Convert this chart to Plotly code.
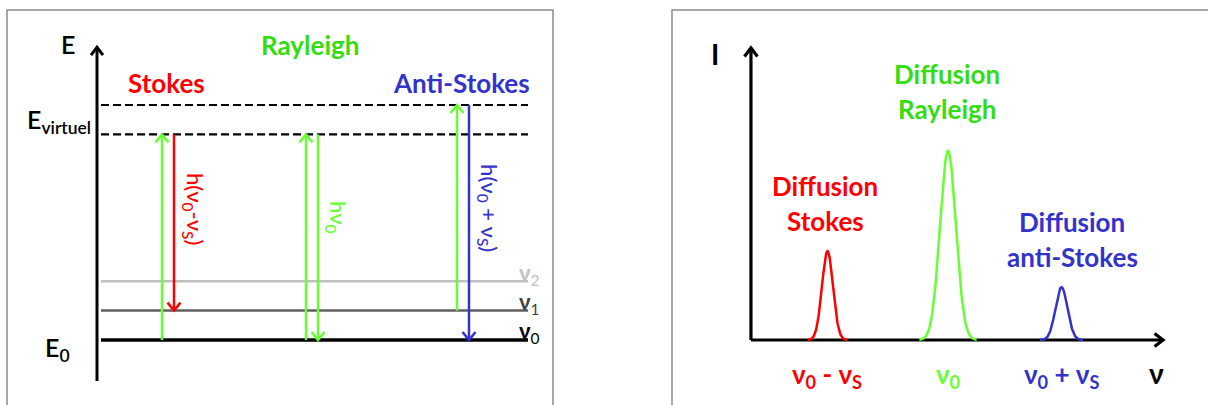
import numpy as np
import plotly.graph_objects as go

FONT = "Lato, 'Open Sans', 'DejaVu Sans', sans-serif"
RED = "#ff0000"
GREEN_TXT = "#33dd11"
GREEN = "#66ff33"
BLUE = "#3333cc"
BLACK = "#000000"

# ---------------- Left panel : energy-level diagram ----------------
level_names = ["ν<sub>0</sub>", "ν<sub>1</sub>", "ν<sub>2</sub>"]
level_energy = [0.0, 1.0, 2.0]
level_colors = ["#000000", "#606060", "#c0c0c0"]
level_label_colors = ["#000000", "#404040", "#c0c0c0"]
level_widths = [3.5, 2.5, 2.5]
virtual_energy = [7.0, 8.0]

process_names = ["Stokes", "Rayleigh", "Anti-Stokes"]
process_colors = [RED, GREEN_TXT, BLUE]
process_x = [0.71, 2.15, 3.66]
start_energy = [0.0, 0.0, 1.0]
virtual_reached = [7.0, 7.0, 8.0]
end_energy = [1.0, 0.0, 0.0]
emission_colors = [RED, GREEN, BLUE]
emission_labels = ["h(ν<sub>0</sub>-ν<sub>S</sub>)", "hν<sub>0</sub>", "h(ν<sub>0</sub> + ν<sub>S</sub>)"]

# ---------------- Right panel : spectrum ----------------
peak_names = ["Diffusion<br>Stokes", "Diffusion<br>Rayleigh", "Diffusion<br>anti-Stokes"]
peak_ticks = ["ν<sub>0</sub> - ν<sub>S</sub>", "ν<sub>0</sub>", "ν<sub>0</sub> + ν<sub>S</sub>"]
peak_colors = [RED, GREEN, BLUE]
peak_text_colors = [RED, GREEN_TXT, BLUE]
peak_tick_colors = [RED, GREEN, BLUE]
peak_center = [-1.03, 0.0, 0.97]
peak_height = [0.47, 1.0, 0.28]
peak_width = [0.047, 0.068, 0.051]

# ---------------- layout helpers (decoration positions, axis units) ----------------
LEVEL_X = [0.04, 4.31]
ARROW_OFF = 0.06
TITLE_Y = [8.75, 10.05, 8.75]
EMIS_X_OFF = [0.26, 0.25, 0.25]
EMIS_Y = [4.46, 4.19, 4.49]
PEAK_LABEL_X = [-1.05, -0.01, 1.06]
PEAK_LABEL_TOP = [0.815, 1.407, 0.624]
LINE_STEP = 0.185

# pixel sizes of one axis unit (used only to shape arrow heads)
PX = {"x": 100.0, "y": 29.375, "x2": 117.0, "y2": 189.0}

fig = go.Figure()
ann = []


def arrow(xa, ya, x0, y0, x1, y1, color, width, head_w=6.5, head_l=8.0):
    """Line from (x0,y0) to (x1,y1) with an open chevron head at (x1,y1)."""
    fig.add_trace(go.Scatter(x=[x0, x1], y=[y0, y1], mode="lines",
                             line=dict(color=color, width=width), xaxis=xa, yaxis=ya,
                             hoverinfo="skip", showlegend=False))
    dxp = (x1 - x0) * PX[xa]
    dyp = (y1 - y0) * PX[ya]
    n = np.hypot(dxp, dyp)
    ux, uy = dxp / n, dyp / n
    px_, py_ = -uy, ux
    bx = [-head_l * ux + head_w * px_, 0, -head_l * ux - head_w * px_]
    by = [-head_l * uy + head_w * py_, 0, -head_l * uy - head_w * py_]
    hx = [x1 + b / PX[xa] for b in bx]
    hy = [y1 + b / PX[ya] for b in by]
    fig.add_trace(go.Scatter(x=hx, y=hy, mode="lines",
                             line=dict(color=color, width=width), xaxis=xa, yaxis=ya,
                             hoverinfo="skip", showlegend=False))


# energy levels
for name, e, c, lc, w in zip(level_names, level_energy, level_colors, level_label_colors, level_widths):
    fig.add_trace(go.Scatter(x=LEVEL_X, y=[e, e], mode="lines",
                             line=dict(color=c, width=w), xaxis="x", yaxis="y",
                             hoverinfo="skip", showlegend=False))
    ann.append(dict(x=4.20, y=e + 0.26, xref="x", yref="y", text="<b>ν</b>" + name[1:], showarrow=False,
                    xanchor="left", yanchor="middle",
                    font=dict(family=FONT, size=22, color=lc)))

for e in virtual_energy:
    fig.add_trace(go.Scatter(x=LEVEL_X, y=[e, e], mode="lines",
                             line=dict(color=BLACK, width=2.2, dash="8px,4px"), xaxis="x", yaxis="y",
                             hoverinfo="skip", showlegend=False))

# transitions
for i in range(3):
    xc = process_x[i]
    arrow("x", "y", xc - ARROW_OFF, start_energy[i], xc - ARROW_OFF, virtual_reached[i], GREEN, 2.5)
    arrow("x", "y", xc + ARROW_OFF, virtual_reached[i], xc + ARROW_OFF, end_energy[i], emission_colors[i], 2.5)
    ann.append(dict(x=xc + EMIS_X_OFF[i], y=EMIS_Y[i], xref="x", yref="y", text=emission_labels[i],
                    showarrow=False, textangle=90, xanchor="center", yanchor="middle",
                    font=dict(family=FONT, size=22, color=emission_colors[i], weight=500)))
    ann.append(dict(x=xc - 0.02, y=TITLE_Y[i], xref="x", yref="y", text="<b>%s</b>" % process_names[i],
                    showarrow=False, xanchor="center", yanchor="middle",
                    font=dict(family=FONT, size=26, color=process_colors[i])))

# energy axis
arrow("x", "y", 0, -1.40, 0, 9.97, BLACK, 3, head_w=6.0, head_l=8.0)
ann.append(dict(x=-0.295, y=10.08, xref="x", yref="y", text="E", showarrow=False,
                font=dict(family=FONT, size=25, color=BLACK, weight=600)))
ann.append(dict(x=-0.38, y=7.45, xref="x", yref="y", text="E<sub>virtuel</sub>", showarrow=False,
                font=dict(family=FONT, size=25, color=BLACK, weight=600)))
ann.append(dict(x=-0.40, y=-0.30, xref="x", yref="y", text="E<sub>0</sub>", showarrow=False,
                font=dict(family=FONT, size=25, color=BLACK, weight=600)))

# spectrum axes (drawn first so peaks sit on them)
arrow("x2", "y2", -1.684, 0, 1.838, 0, BLACK, 3.2, head_w=6.5, head_l=8.5)
arrow("x2", "y2", -1.684, 0, -1.684, 1.545, BLACK, 3.2, head_w=6.5, head_l=8.5)

# spectrum peaks
for c, h, s, col in zip(peak_center, peak_height, peak_width, peak_colors):
    xs = np.linspace(c - 3.6 * s, c + 3.6 * s, 121)
    ys = h * np.exp(-0.5 * ((xs - c) / s) ** 2)
    fig.add_trace(go.Scatter(x=xs, y=ys, mode="lines", line=dict(color=col, width=2.5),
                             xaxis="x2", yaxis="y2", hoverinfo="skip", showlegend=False))

for i in range(3):
    lines = peak_names[i].split("<br>")
    for k, t in enumerate(lines):
        ann.append(dict(x=PEAK_LABEL_X[i], y=PEAK_LABEL_TOP[i] - k * LINE_STEP, xref="x2", yref="y2",
                        text="<b>%s</b>" % t, showarrow=False, xanchor="center", yanchor="middle",
                        font=dict(family=FONT, size=26, color=peak_text_colors[i])))
    ann.append(dict(x=peak_center[i], y=-0.19, xref="x2", yref="y2",
                    text="<b>%s</b>" % peak_ticks[i], showarrow=False, xanchor="center", yanchor="middle",
                    font=dict(family=FONT, size=26, color=peak_tick_colors[i])))

ann.append(dict(x=-1.991, y=1.513, xref="x2", yref="y2", text="<b>I</b>", showarrow=False,
                font=dict(family=FONT, size=28, color=BLACK)))
ann.append(dict(x=1.786, y=-0.175, xref="x2", yref="y2", text="<b>ν</b>", showarrow=False,
                font=dict(family=FONT, size=28, color=BLACK)))

shapes = [
    dict(type="rect", xref="paper", yref="paper", x0=7 / 1208, x1=553 / 1208, y0=-0.05, y1=1 - 10 / 405,
         line=dict(color="#8a8a8a", width=1.5), fillcolor="rgba(0,0,0,0)", layer="below"),
    dict(type="rect", xref="paper", yref="paper", x0=672 / 1208, x1=1.02, y0=-0.05, y1=1 - 10 / 405,
         line=dict(color="#8a8a8a", width=1.5), fillcolor="rgba(0,0,0,0)", layer="below"),
]

fig.update_layout(
    width=1208, height=405, margin=dict(l=0, r=0, t=0, b=0),
    paper_bgcolor="white", plot_bgcolor="white", showlegend=False,
    xaxis=dict(domain=[0, 0.5], range=[-0.97, 5.07], visible=False, fixedrange=True),
    yaxis=dict(domain=[0, 1], range=[-2.2128, 11.5745], visible=False, fixedrange=True, anchor="x"),
    xaxis2=dict(domain=[0.5, 1], range=[-2.940, 2.222], visible=False, fixedrange=True, anchor="y2"),
    yaxis2=dict(domain=[0, 1], range=[-0.3439, 1.7989], visible=False, fixedrange=True, anchor="x2"),
    annotations=ann, shapes=shapes,
)

fig.write_html("out.html", config={"displayModeBar": False},
               post_script="document.body.style.margin='0';document.body.style.overflow='hidden';")
